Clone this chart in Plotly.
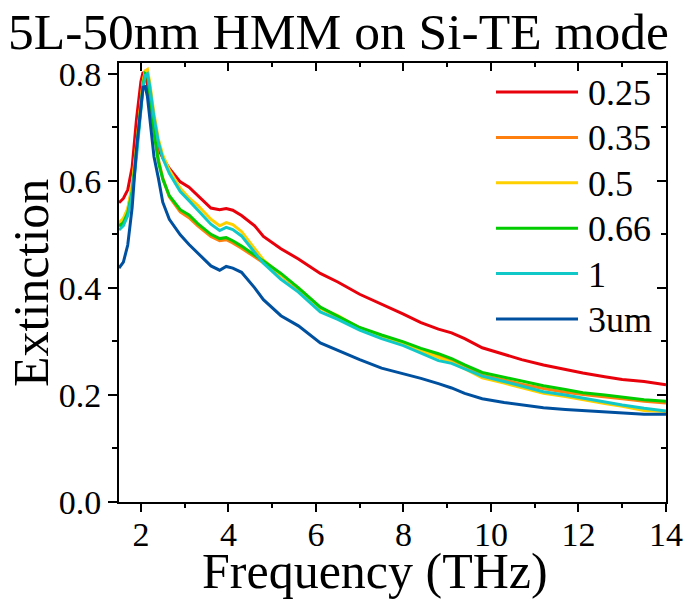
import plotly.graph_objects as go

freq = [1.5, 1.6, 1.7, 1.8, 1.9, 2.0, 2.05, 2.1, 2.15, 2.2, 2.3, 2.4, 2.5, 2.65, 2.9,
        3.1, 3.3, 3.6, 3.8, 3.95, 4.1, 4.3, 4.6, 4.8, 5.2, 5.6, 6.1, 6.5, 7.0, 7.5,
        8.0, 8.4, 8.8, 9.1, 9.4, 9.8, 10.3, 10.7, 11.2, 11.7, 12.1, 12.6, 13.0, 13.5, 14.0]

ext_025 = [0.559, 0.567, 0.583, 0.625, 0.715, 0.785, 0.803, 0.798, 0.780, 0.752, 0.700, 0.660, 0.643, 0.623, 0.598,
           0.588, 0.572, 0.549, 0.546, 0.548, 0.545, 0.535, 0.516, 0.496, 0.473, 0.454, 0.427, 0.411, 0.388, 0.370,
           0.351, 0.335, 0.323, 0.316, 0.305, 0.288, 0.275, 0.266, 0.256, 0.247, 0.241, 0.234, 0.229, 0.225, 0.219]
ext_035 = [0.520, 0.528, 0.546, 0.588, 0.662, 0.748, 0.784, 0.805, 0.806, 0.775, 0.700, 0.640, 0.605, 0.570, 0.542,
           0.531, 0.516, 0.496, 0.488, 0.490, 0.484, 0.474, 0.458, 0.447, 0.424, 0.398, 0.363, 0.346, 0.325, 0.310,
           0.297, 0.285, 0.274, 0.265, 0.253, 0.237, 0.228, 0.220, 0.212, 0.205, 0.201, 0.197, 0.193, 0.188, 0.185]
ext_05 = [0.521, 0.530, 0.548, 0.590, 0.665, 0.750, 0.785, 0.805, 0.808, 0.785, 0.725, 0.678, 0.648, 0.620, 0.586,
          0.568, 0.554, 0.528, 0.516, 0.522, 0.518, 0.505, 0.472, 0.452, 0.424, 0.400, 0.362, 0.348, 0.325, 0.309,
          0.295, 0.283, 0.270, 0.261, 0.249, 0.232, 0.222, 0.214, 0.203, 0.197, 0.191, 0.184, 0.179, 0.171, 0.169]
ext_066 = [0.515, 0.522, 0.540, 0.580, 0.655, 0.740, 0.780, 0.800, 0.797, 0.765, 0.690, 0.635, 0.603, 0.572, 0.546,
           0.536, 0.520, 0.500, 0.492, 0.494, 0.488, 0.478, 0.462, 0.450, 0.427, 0.400, 0.364, 0.347, 0.326, 0.312,
           0.299, 0.287, 0.277, 0.268, 0.256, 0.242, 0.233, 0.226, 0.217, 0.210, 0.204, 0.200, 0.196, 0.191, 0.188]
ext_1 = [0.508, 0.516, 0.535, 0.575, 0.645, 0.735, 0.775, 0.797, 0.800, 0.778, 0.718, 0.672, 0.642, 0.614, 0.580,
         0.563, 0.546, 0.519, 0.507, 0.513, 0.509, 0.497, 0.466, 0.446, 0.416, 0.392, 0.355, 0.341, 0.321, 0.305,
         0.292, 0.278, 0.264, 0.259, 0.249, 0.235, 0.225, 0.216, 0.206, 0.200, 0.194, 0.187, 0.181, 0.175, 0.170]
ext_3 = [0.437, 0.448, 0.480, 0.550, 0.660, 0.745, 0.775, 0.776, 0.757, 0.720, 0.645, 0.605, 0.560, 0.528, 0.499,
         0.481, 0.465, 0.441, 0.433, 0.440, 0.437, 0.429, 0.400, 0.378, 0.348, 0.329, 0.297, 0.283, 0.266, 0.250,
         0.240, 0.231, 0.221, 0.213, 0.203, 0.193, 0.186, 0.181, 0.176, 0.173, 0.171, 0.168, 0.166, 0.164, 0.164]

labels = ["0.25", "0.35", "0.5", "0.66", "1", "3um"]
series = [ext_025, ext_035, ext_05, ext_066, ext_1, ext_3]
colors = ["#E8000B", "#FF7F0E", "#FFD000", "#00CC00", "#10C8C8", "#0050A0"]

x_ticks = [2, 4, 6, 8, 10, 12, 14]
y_ticks = [0.0, 0.2, 0.4, 0.6, 0.8]

FONT = "Liberation Serif, Times New Roman, serif"

# plot-area geometry in pixels (used for legend / title placement)
W, H = 688, 603
ML, MR, MT, MB = 119, 22, 63, 101
PW, PH = W - ML - MR, H - MT - MB


def px_x(px):
    return (px - ML) / PW


def px_y(py):
    return (H - MB - py) / PH


fig = go.Figure()
for name, ys, c in zip(labels, series, colors):
    fig.add_trace(go.Scatter(x=freq, y=ys, mode="lines", name=name, showlegend=False,
                             line=dict(color=c, width=3)))
# dummy trace to activate mirrored (inward tick) axes
fig.add_trace(go.Scatter(x=[], y=[], xaxis="x2", yaxis="y2", showlegend=False, hoverinfo="skip"))

axis_common = dict(showgrid=False, zeroline=False, showline=True, linecolor="black", linewidth=2,
                   tickcolor="black", tickwidth=2, automargin=False,
                   tickfont=dict(family=FONT, size=34, color="black"))

# manual legend (long line samples as in the reference)
shapes = []
annotations = []
for i, (name, c) in enumerate(zip(labels, colors)):
    py = 92 + i * 45.4
    shapes.append(dict(type="line", xref="paper", yref="paper",
                       x0=px_x(496), x1=px_x(578), y0=px_y(py), y1=px_y(py),
                       line=dict(color=c, width=3)))
    annotations.append(dict(text=name, xref="paper", yref="paper", x=px_x(586), y=px_y(py + 1),
                            xanchor="left", yanchor="middle", showarrow=False,
                            font=dict(family=FONT, size=36, color="black")))

annotations += [
    dict(text="Frequency (THz)", xref="paper", yref="paper", x=px_x(375), y=px_y(571),
         xanchor="center", yanchor="middle", showarrow=False,
         font=dict(family=FONT, size=50, color="black")),
    dict(text="Extinction", xref="paper", yref="paper", x=px_x(31), y=px_y(283),
         xanchor="center", yanchor="middle", showarrow=False, textangle=-90,
         font=dict(family=FONT, size=50, color="black")),
    dict(text="5L-50nm HMM on Si-TE mode", xref="paper", yref="paper", x=px_x(338), y=px_y(31),
         xanchor="center", yanchor="middle", showarrow=False,
         font=dict(family=FONT, size=51.5, color="black")),
]

fig.update_layout(
    width=W, height=H,
    margin=dict(l=ML, r=MR, t=MT, b=MB, autoexpand=False),
    paper_bgcolor="white", plot_bgcolor="white",
    font=dict(family=FONT, color="black"),
    xaxis=dict(range=[1.5, 14.0], tickvals=x_ticks, ticks="outside", ticklen=8, ticklabelstandoff=-7,
               minor=dict(dtick=1, tick0=0, ticks="outside", ticklen=4, tickwidth=2, tickcolor="black"),
               **axis_common),
    yaxis=dict(range=[0, 0.82], tickvals=y_ticks, tickformat=".1f", ticks="outside", ticklen=9,
               minor=dict(dtick=0.1, tick0=0, ticks="outside", ticklen=5, tickwidth=2, tickcolor="black"),
               **axis_common),
    xaxis2=dict(range=[1.5, 14.0], overlaying="x", side="top", tickvals=x_ticks, ticks="inside", ticklen=8,
                showticklabels=False,
                minor=dict(dtick=1, tick0=0, ticks="inside", ticklen=4, tickwidth=2, tickcolor="black"),
                **axis_common),
    yaxis2=dict(range=[0, 0.82], overlaying="y", side="right", tickvals=y_ticks, ticks="inside", ticklen=9,
                showticklabels=False,
                minor=dict(dtick=0.1, tick0=0, ticks="inside", ticklen=5, tickwidth=2, tickcolor="black"),
                **axis_common),
    showlegend=False,
    shapes=shapes,
    annotations=annotations,
)

fig.write_html("out.html", config={"displayModeBar": False},
               post_script="document.body.style.margin='0';document.body.style.padding='0';")
